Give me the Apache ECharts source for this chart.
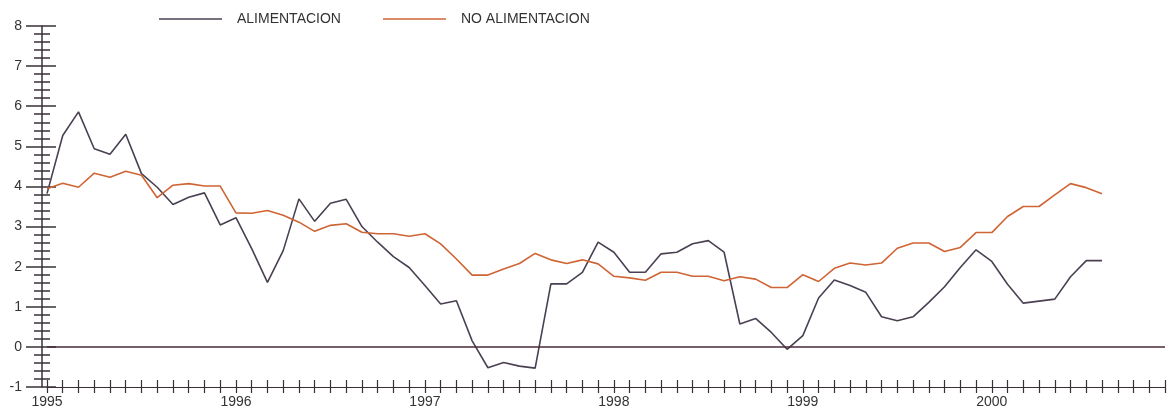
<!DOCTYPE html>
<html>
<head>
<meta charset="utf-8">
<script src="https://cdn.jsdelivr.net/npm/echarts@6/dist/echarts.min.js"></script>
<style>
html,body{margin:0;padding:0;background:#fff;}
#c{width:1169px;height:413px;}
</style>
</head>
<body>
<div id="c"></div>
<script>
var yearLabels = ['1995', '1996', '1997', '1998', '1999', '2000'];
var monthsPerYear = 12;
var seriesNames = ['ALIMENTACION', 'NO ALIMENTACION'];

var alimentacion = [
  3.82, 5.27, 5.86, 4.94, 4.80, 5.30, 4.32, 3.98, 3.55, 3.73, 3.84, 3.04,
  3.22, 2.45, 1.61, 2.40, 3.69, 3.13, 3.58, 3.68, 3.00, 2.61, 2.25, 1.98,
  1.53, 1.07, 1.15, 0.15, -0.52, -0.39, -0.48, -0.53, 1.57, 1.57, 1.86, 2.61,
  2.36, 1.86, 1.86, 2.32, 2.36, 2.57, 2.65, 2.36, 0.57, 0.71, 0.36, -0.06,
  0.28, 1.22, 1.67, 1.53, 1.36, 0.75, 0.65, 0.75, 1.11, 1.50, 1.98, 2.42,
  2.13, 1.56, 1.09, 1.14, 1.19, 1.75, 2.15, 2.15
];

var noAlimentacion = [
  3.94, 4.08, 3.98, 4.33, 4.23, 4.38, 4.28, 3.72, 4.03, 4.07, 4.01, 4.01,
  3.34, 3.33, 3.40, 3.28, 3.11, 2.88, 3.03, 3.07, 2.86, 2.82, 2.82, 2.76,
  2.82, 2.57, 2.19, 1.79, 1.79, 1.94, 2.08, 2.33, 2.17, 2.08, 2.17, 2.07,
  1.76, 1.72, 1.66, 1.86, 1.86, 1.76, 1.76, 1.65, 1.75, 1.69, 1.48, 1.48,
  1.80, 1.63, 1.96, 2.09, 2.04, 2.09, 2.46, 2.59, 2.59, 2.38, 2.48, 2.85,
  2.85, 3.25, 3.50, 3.50, 3.79, 4.07, 3.97, 3.82
];

var yMin = -1, yMax = 8, yStep = 1;

// monthly categories, Jan 1995 .. Dec 2000
var categories = [];
yearLabels.forEach(function (y) {
  for (var m = 1; m <= monthsPerYear; m++) {
    categories.push(y + '-' + (m < 10 ? '0' + m : m));
  }
});

var axisColor = '#3a3038';
var font = 'Liberation Sans, Arial, Helvetica, sans-serif';

var chart = echarts.init(document.getElementById('c'), null, {renderer: 'canvas'});

var xBase = {
  type: 'category',
  data: categories,
  boundaryGap: false,
  position: 'bottom',
  splitLine: {show: false}
};

chart.setOption({
  animation: false,
  backgroundColor: '#ffffff',
  grid: {left: 47, right: 4, top: 26, bottom: 26, containLabel: false},
  legend: {
    left: 159,
    top: 11,
    padding: 0,
    icon: 'rect',
    itemWidth: 63,
    itemHeight: 1.6,
    itemGap: 42,
    data: seriesNames,
    textStyle: {fontFamily: font, fontSize: 14, color: '#333333', padding: [0, 0, 0, 10], lineHeight: 16}
  },
  xAxis: [
    Object.assign({}, xBase, {
      axisLine: {show: true, onZero: false, lineStyle: {color: axisColor, width: 1.2}},
      axisTick: {show: true, interval: 0, length: 6, inside: false, lineStyle: {color: axisColor, width: 1.2}},
      axisLabel: {
        show: true,
        interval: function (i) { return i % monthsPerYear === 0; },
        formatter: function (v) { return v.slice(0, 4); },
        margin: 8,
        fontFamily: font,
        fontSize: 14,
        color: '#333333'
      }
    }),
    Object.assign({}, xBase, {
      axisLine: {show: false, onZero: false},
      axisTick: {show: true, interval: 0, length: 7, inside: true, lineStyle: {color: axisColor, width: 1.2}},
      axisLabel: {show: false}
    })
  ],
  yAxis: [
    {
      type: 'value', position: 'left', offset: 5,
      min: yMin, max: yMax, interval: yStep,
      axisLine: {show: true, onZero: false, lineStyle: {color: axisColor, width: 1.5}},
      axisTick: {show: true, length: 16, inside: false, lineStyle: {color: axisColor, width: 1.5}},
      minorTick: {show: true, splitNumber: 5, length: 8, lineStyle: {color: axisColor, width: 1.5}},
      splitLine: {show: false},
      minorSplitLine: {show: false},
      axisLabel: {margin: 20, fontFamily: font, fontSize: 14, color: '#333333'}
    },
    {
      type: 'value', position: 'left', offset: 5,
      min: yMin, max: yMax, interval: yStep,
      axisLine: {show: false, onZero: false},
      axisTick: {show: true, length: 14, inside: true, lineStyle: {color: axisColor, width: 1.5}},
      minorTick: {show: true, splitNumber: 5, length: 8, lineStyle: {color: axisColor, width: 1.5}},
      splitLine: {show: false},
      axisLabel: {show: false}
    }
  ],
  series: [
    {
      name: seriesNames[0],
      type: 'line',
      data: alimentacion,
      symbol: 'none',
      color: '#4a4052',
      lineStyle: {color: '#4a4052', width: 1.6},
      markLine: {
        silent: true,
        symbol: 'none',
        label: {show: false},
        lineStyle: {color: '#4a2a3a', width: 1.5, type: 'solid'},
        data: [{yAxis: 0}]
      }
    },
    {
      name: seriesNames[1],
      type: 'line',
      data: noAlimentacion,
      symbol: 'none',
      color: '#cf6434',
      lineStyle: {color: '#cf6434', width: 1.6}
    }
  ]
});
</script>
</body>
</html>
